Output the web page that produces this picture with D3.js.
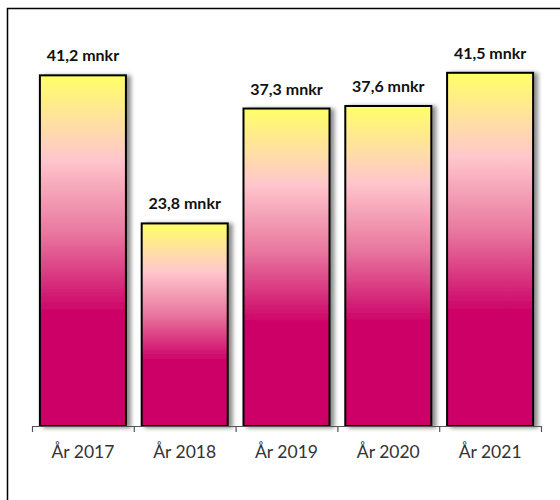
<!DOCTYPE html>
<html>
<head>
<meta charset="utf-8">
<script src="https://cdn.jsdelivr.net/npm/d3@7"></script>
<style>
  html, body { margin: 0; padding: 0; background: #fff; }
  svg { display: block; }
</style>
</head>
<body>
<div id="chart"></div>
<script>
const years = ["År 2017", "År 2018", "År 2019", "År 2020", "År 2021"];
const amounts = [41.2, 23.8, 37.3, 37.6, 41.5];
const unit = "mnkr";

const width = 560, height = 500;
const sv = d3.formatLocale({ decimal: ",", thousands: " ", grouping: [3], currency: ["", " kr"] });
const fmt = sv.format(".1f");

const data = years.map((y, i) => ({ year: y, value: amounts[i] }));

const svg = d3.select("#chart").append("svg")
  .attr("width", width).attr("height", height);

const defs = svg.append("defs");
const grad = defs.append("linearGradient")
  .attr("id", "barFill").attr("x1", 0).attr("y1", 0).attr("x2", 0).attr("y2", 1);
[[0, "#ffff66"], [0.15, "#ffdca8"], [0.24, "#ffc6cc"], [0.45, "#e8779f"], [0.68, "#cc0066"], [1, "#cc0066"]]
  .forEach(([o, c]) => grad.append("stop").attr("offset", o).attr("stop-color", c));

const shadow = defs.append("filter").attr("id", "shadow")
  .attr("x", "-10%").attr("y", "-10%").attr("width", "130%").attr("height", "120%");
shadow.append("feDropShadow")
  .attr("dx", 4).attr("dy", 1).attr("stdDeviation", 2)
  .attr("flood-color", "#000").attr("flood-opacity", 0.45);

// chart frame (clipped by the window on right and bottom)
svg.append("rect")
  .attr("x", 7.5).attr("y", 8.5).attr("width", 600).attr("height", 600)
  .attr("fill", "none").attr("stroke", "#000").attr("stroke-width", 1.5);

const x = d3.scaleBand().domain(years).range([32, 541])
  .paddingInner(0.155).paddingOuter(0.0775);
const y = d3.scaleLinear().domain([0, 45]).range([426, 43]);

svg.append("g").selectAll("rect").data(data).join("rect")
  .attr("x", d => x(d.year))
  .attr("y", d => y(d.value))
  .attr("width", x.bandwidth())
  .attr("height", d => y(0) - y(d.value))
  .attr("fill", "url(#barFill)")
  .attr("stroke", "#000").attr("stroke-width", 2)
  .attr("filter", "url(#shadow)");

// axis line with ticks between categories
const axis = svg.append("g").attr("stroke", "#555").attr("stroke-width", 1.2);
axis.append("line")
  .attr("x1", x.range()[0]).attr("x2", x.range()[1])
  .attr("y1", y(0) + 0.5).attr("y2", y(0) + 0.5);
axis.selectAll("line.tick").data(d3.range(years.length + 1)).join("line")
  .attr("class", "tick")
  .attr("x1", i => x.range()[0] + i * x.step() + 0.5)
  .attr("x2", i => x.range()[0] + i * x.step() + 0.5)
  .attr("y1", y(0)).attr("y2", y(0) + 6);

svg.append("g").selectAll("text").data(years).join("text")
  .attr("x", d => x(d) + x.bandwidth() / 2)
  .attr("y", y(0) + 32)
  .attr("text-anchor", "middle")
  .attr("font-family", "Lato, 'Open Sans', sans-serif")
  .attr("font-size", 17.5)
  .attr("fill", "#333")
  .text(d => d);

svg.append("g").selectAll("text").data(data).join("text")
  .attr("x", d => x(d.year) + x.bandwidth() / 2)
  .attr("y", d => y(d.value) - 14)
  .attr("text-anchor", "middle")
  .attr("font-family", "Lato, 'Open Sans', sans-serif")
  .attr("font-weight", "bold")
  .attr("font-size", 16)
  .attr("fill", "#111")
  .text(d => `${fmt(d.value)} ${unit}`);
</script>
</body>
</html>
